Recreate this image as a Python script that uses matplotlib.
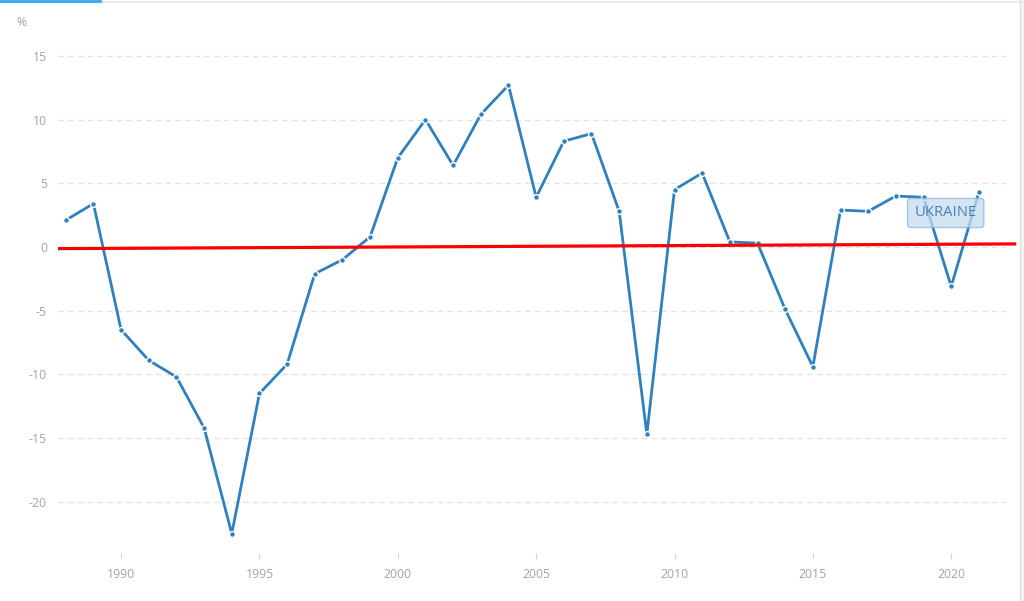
import matplotlib
matplotlib.use("Agg")
import matplotlib.pyplot as plt
from matplotlib.patches import Rectangle
from matplotlib.lines import Line2D

# Ukraine, GDP growth (annual %)
years = list(range(1988, 2022))
growth = [2.1, 3.4, -6.5, -8.9, -10.2, -14.2, -22.5, -11.5, -9.2, -2.1,
          -1.0, 0.8, 7.0, 10.0, 6.4, 10.4, 12.7, 3.9, 8.3, 8.9,
          2.8, -14.7, 4.5, 5.8, 0.4, 0.3, -4.9, -9.4, 2.9, 2.8,
          4.0, 3.9, -3.1, 4.3]

# hand-drawn red reference line (start / end)
ref_x = [1987.72, 2022.35]
ref_y = [-0.13, 0.24]

yticks = [15, 10, 5, 0, -5, -10, -15, -20]
xticks = [1990, 1995, 2000, 2005, 2010, 2015, 2020]

plt.rcParams["font.family"] = ["Open Sans", "DejaVu Sans"]
label_col = "#a3a3a3"

fig = plt.figure(figsize=(10.24, 6.01), dpi=100)
ax = fig.add_axes([58 / 1024, 1 - 553 / 601, 948 / 1024, 523 / 601])

ax.plot(years, growth, color="#3080bd", lw=2.0, marker="o", ms=4.2,
        mfc="#3080bd", mec="white", mew=1.0, zorder=3, solid_joinstyle="round")
ax.plot(ref_x, ref_y, color="#ff0000", lw=2.3, zorder=4, clip_on=False,
        solid_capstyle="butt")

ax.set_xlim(1987.72, 2021.98)
ax.set_ylim(-24.02, 17.03)
ax.set_yticks(yticks)
ax.set_xticks(xticks)
ax.set_yticklabels([str(v) for v in yticks])
ax.grid(axis="y", color="#e3e3e3", lw=1, ls=(0, (4, 3)))
ax.set_axisbelow(True)
for s in ax.spines.values():
    s.set_visible(False)
ax.tick_params(axis="y", length=0, pad=8, labelsize=8.8, labelcolor=label_col)
ax.tick_params(axis="x", length=4, width=0.8, color="#d6d6d6", pad=7,
               labelsize=8.8, labelcolor=label_col)

ax.annotate("UKRAINE", xy=(2019.8, 2.67), xycoords="data", ha="center",
            va="center", fontsize=10.6, color="#4a7fb5", zorder=5,
            bbox=dict(boxstyle="round,pad=0.48,rounding_size=0.2",
                      fc="#c5dcef", ec="#8db6da", lw=1, alpha=0.75))

fig.text(16 / 1024, 1 - 22 / 601, "%", fontsize=8.8, color=label_col,
         va="center", ha="left")

# page chrome: top rule with blue progress segment, right border
fig.add_artist(Line2D([0, 1], [1 - 2 / 601] * 2, color="#e8e8e8", lw=1.5,
                      transform=fig.transFigure))
fig.add_artist(Line2D([0, 100 / 1024], [1 - 1 / 601] * 2, color="#35a8f0",
                      lw=2, transform=fig.transFigure))
fig.add_artist(Rectangle((1020 / 1024, 0), 4 / 1024, 1, color="#f3f3f3",
                         transform=fig.transFigure))
fig.add_artist(Line2D([1020 / 1024] * 2, [0, 1], color="#e2e2e2", lw=1,
                      transform=fig.transFigure))

fig.savefig("out.png", dpi=100)
